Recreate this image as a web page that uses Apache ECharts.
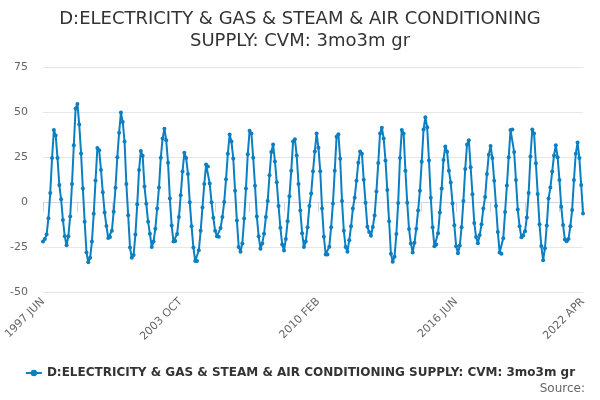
<!DOCTYPE html>
<html>
<head>
<meta charset="utf-8">
<script src="https://cdn.jsdelivr.net/npm/echarts@6/dist/echarts.min.js"></script>
<style>
  html, body { margin: 0; padding: 0; background: #fff; }
  #chart { width: 600px; height: 400px; }
</style>
</head>
<body>
<div id="chart"></div>
<script>
// Monthly 3mo-on-3m growth, Jun 1997 .. Apr 2022.
const SERIES_NAME = "D:ELECTRICITY & GAS & STEAM & AIR CONDITIONING SUPPLY: CVM: 3mo3m gr";
const START_YEAR = 1997, START_MONTH = 6;
const MONTHS = ["JAN", "FEB", "MAR", "APR", "MAY", "JUN", "JUL", "AUG", "SEP", "OCT", "NOV", "DEC"];

const values = [
  -22, -20.5, -18, -9, 5, 24.5, 40, 37, 24.5, 9.5, 1.5, -10,
  -19, -24, -19, -8, 10, 31.5, 52, 54.5, 43, 27, 7.5, -11,
  -28, -33.5, -31, -22, -6.5, 12, 30, 28.7, 17.8, 5.4, -5.8, -13.3,
  -20, -19.5, -16, -5.4, 7.9, 24.8, 38.5, 49.7, 44.5, 33.6, 10, -7.3,
  -25.3, -31, -29.5, -18, -1.3, 17.8, 28.3, 25.7, 8.6, -1, -11, -17.6,
  -25, -22, -14.8, -3.6, 8, 24.6, 35.3, 40.7, 34.3, 21.8, 2, -13,
  -22, -21.6, -17.8, -8.4, 3.8, 17, 27.4, 24.4, 15.6, -0.2, -13.5, -25.3,
  -32.8, -32.8, -26.8, -16, -3, 10, 20.8, 19.7, 10.3, -0.2, -8.8, -16,
  -19, -19.3, -14.4, -8.3, 0, 12.6, 26.8, 37.5, 33.6, 24.2, 6.2, -10.3,
  -25, -27.6, -23, -9.2, 7.5, 26.5, 39.6, 38.1, 24.6, 9, -8, -19,
  -26, -23, -17.6, -8.4, 0.6, 14.8, 27.8, 31.9, 22.5, 11, -2.2, -14.3,
  -23.6, -27, -20.5, -10.7, 3.2, 17.3, 33.6, 34.9, 25.9, 10, -4.7, -17.3,
  -25, -22, -14, -2.2, 4.7, 17.1, 28.1, 38.1, 30.2, 17.1, -3.6, -19.3,
  -29.1, -29.1, -24.8, -14, -0.8, 17.4, 36.2, 37.7, 24, 0.6, -16, -25,
  -27.6, -21.2, -13.5, -3.6, 2.4, 11.8, 21.8, 28.1, 26.8, 12.4, -0.4, -13.7,
  -16.7, -18.8, -13.9, -7.5, 5.8, 21.6, 38.1, 41.3, 35.3, 23.1, 6.6, -10.7,
  -28.7, -33.2, -30.4, -17.8, -0.6, 24.4, 40, 38.1, 17.4, -0.4, -15, -23,
  -28, -22.7, -14.8, -4.7, 6.2, 22.3, 40.3, 47.1, 41.5, 23.1, 2.4, -14,
  -24.6, -23.6, -17.4, -5.8, 7.5, 23.4, 30.9, 27.9, 17.4, 10.9, -0.9, -12.9,
  -24.6, -28.5, -24.2, -14, 0.6, 18.4, 31.9, 34.3, 19.3, 4.3, -11.6, -19.5,
  -22.9, -18.4, -12.4, -3.6, 2.8, 15.6, 26.3, 31.1, 24.4, 11.8, -2.2, -16.7,
  -28, -28.7, -20.1, -5.6, 9.2, 24.9, 40, 40.3, 27.8, 12.2, -4.2, -13.5,
  -19.6, -18.6, -16.3, -8.6, 5, 25.3, 40.3, 38.1, 21.5, 4.5, -12.4, -24.5,
  -32.3, -25.7, -13, 2, 8, 16.9, 25.9, 31.5, 24.8, 12.2, -2.6, -12.8,
  -20.9, -21.8, -20.5, -13.5, -4.5, 12.2, 26.8, 33, 24.4, 9.4, -6.4,
];

// "1997 JUN", "1997 JUL", ... one per value
const categories = values.map((_, i) => {
  const m = START_MONTH - 1 + i;
  return `${START_YEAR + Math.floor(m / 12)} ${MONTHS[m % 12]}`;
});
const last = categories.length - 1;

const FONT = "DejaVu Sans";
const chart = echarts.init(document.getElementById("chart"));
chart.setOption({
  animation: false,
  title: [
    { text: "D:ELECTRICITY & GAS & STEAM & AIR CONDITIONING\nSUPPLY: CVM: 3mo3m gr", left: "center", top: 3,
      textStyle: { fontFamily: FONT, fontSize: 18, fontWeight: "normal", color: "#333", lineHeight: 22 } },
    { text: "Source:", right: 10, bottom: 0,
      textStyle: { fontFamily: FONT, fontSize: 12, fontWeight: "normal", color: "#666" } },
  ],
  legend: {
    bottom: 16, left: "center", itemWidth: 16, itemHeight: 8, itemGap: 5,
    textStyle: { fontFamily: FONT, fontSize: 12, fontWeight: "bold", color: "#333" },
  },
  grid: { left: 43, right: 17, top: 67, bottom: 108 },
  xAxis: {
    type: "category", data: categories, boundaryGap: false,
    axisLine: { lineStyle: { color: "#ccd6eb" } },
    axisTick: { length: 10, interval: (i) => i % 19 === 0 || i === last, lineStyle: { color: "#ccd6eb" } },
    axisLabel: { rotate: 45, fontFamily: FONT, fontSize: 11, color: "#666", margin: 8,
      interval: (i) => i % 76 === 0 || i === last },
    splitLine: { show: false },
  },
  yAxis: {
    type: "value", min: -50, max: 75, interval: 25,
    axisLabel: { fontFamily: FONT, fontSize: 11, color: "#666", margin: 15 },
    splitLine: { lineStyle: { color: "#e6e6e6" } },
    axisLine: { show: false }, axisTick: { show: false },
  },
  series: [{
    name: SERIES_NAME, type: "line", data: values,
    symbol: "circle", symbolSize: 4, showAllSymbol: true,
    lineStyle: { color: "#0a7fc2", width: 2 }, itemStyle: { color: "#0a7fc2" },
  }],
});
</script>
</body>
</html>
